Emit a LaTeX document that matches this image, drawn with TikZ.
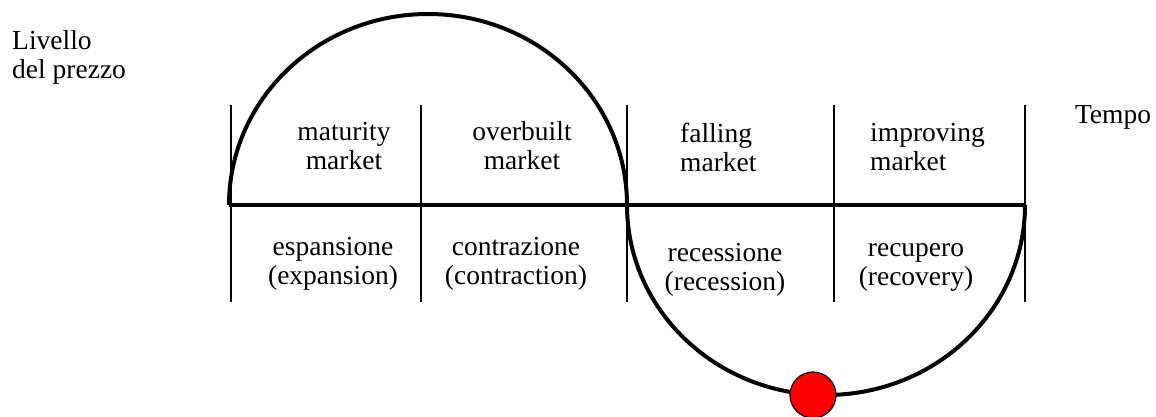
\documentclass[tikz,border=0pt]{standalone}
\usepackage{fontspec}
\setmainfont{Liberation Serif}

\begin{document}
\begin{tikzpicture}[x=1pt,y=-1pt,
  lbl/.style={inner sep=0pt,font=\fontsize{27.5}{29}\selectfont,align=center},
  lblleft/.style={lbl,align=left,anchor=west},
  thick line/.style={line width=4pt},
  phase line/.style={line width=1.8pt}]

\useasboundingbox (0,0) rectangle (1156,416);

% Phase separators
\foreach \x in {231,421,627,834,1025}
  \draw[phase line] (\x,105) -- (\x,302);

% Time axis
\draw[thick line] (229,205) -- (1026,205);

% Cycle
\draw[thick line] (229,205) arc[start angle=180,end angle=360,x radius=199,y radius=191];
\draw[thick line] (627,205) arc[start angle=180,end angle=0,x radius=199,y radius=190];
\node[circle,fill=red,draw,line width=1.2pt,minimum size=46pt,inner sep=0pt] (now) at (813,395) {};

% Labels
\node[lblleft] (price) at (12,57) {Livello\\del prezzo};
\node[lbl] (time) at (1113,117) {Tempo};

\node[lbl] (maturity) at (344,146) {maturity\\market};
\node[lbl] (overbuilt) at (522,146) {overbuilt\\market};
\node[lblleft] (falling) at (680,147) {falling\\market};
\node[lblleft] (improving) at (870,147) {improving\\market};

\node[lbl] (expansion) at (333,264) {espansione\\(expansion)};
\node[lbl] (contraction) at (516,264) {contrazione\\(contraction)};
\node[lbl] (recession) at (725,270) {recessione\\(recession)};
\node[lbl] (recovery) at (916,267) {recupero\\(recovery)};

\end{tikzpicture}
\end{document}
